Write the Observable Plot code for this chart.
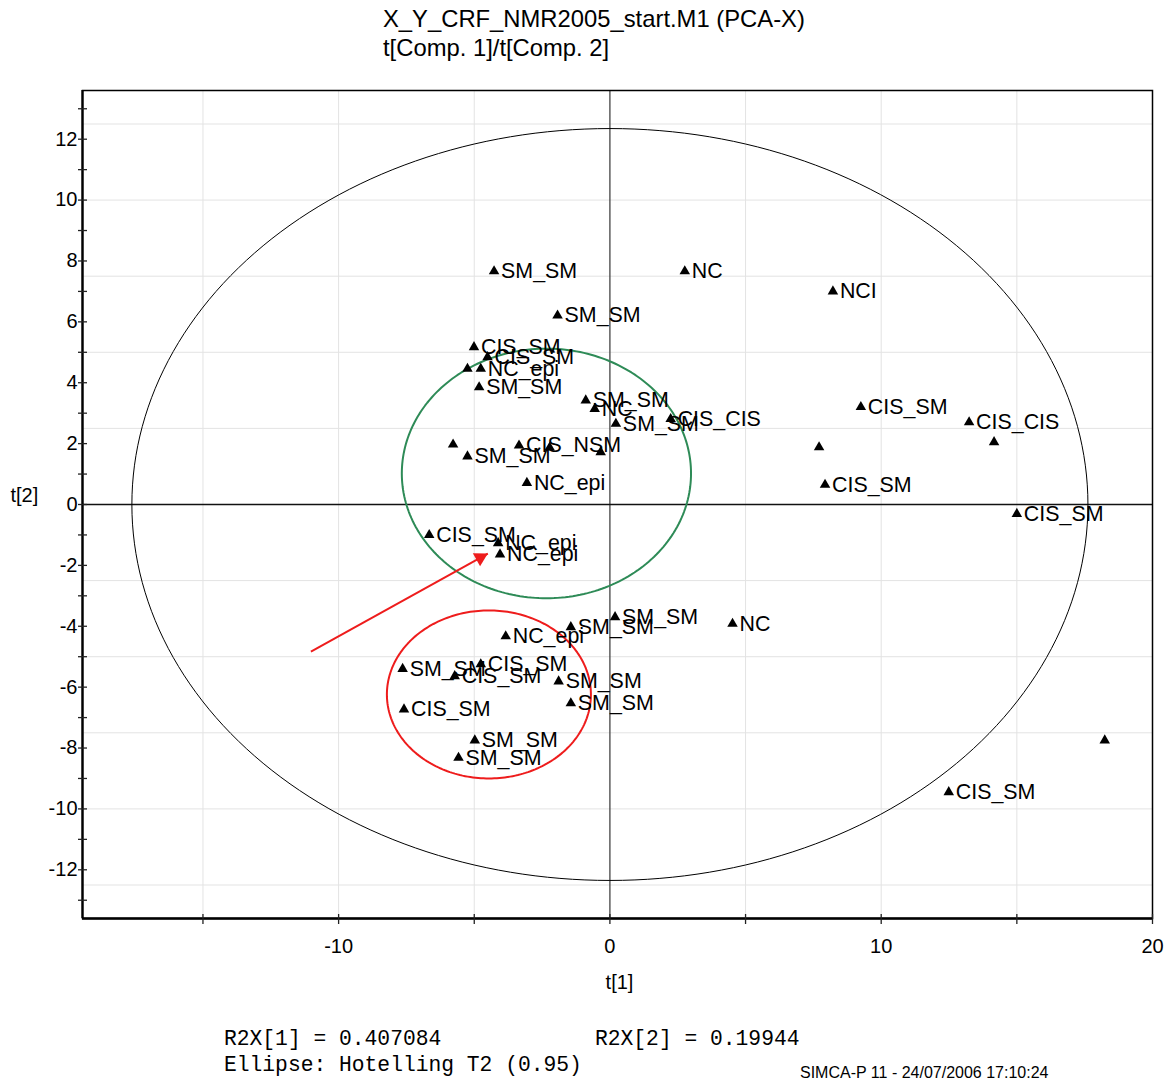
<!DOCTYPE html>
<html>
<head>
<meta charset="utf-8">
<script src="https://cdn.jsdelivr.net/npm/d3@7"></script>
<script src="https://cdn.jsdelivr.net/npm/@observablehq/plot@0.6"></script>
<style>
  html, body { margin: 0; padding: 0; background: #fff; }
  body { position: relative; width: 1172px; height: 1079px; overflow: hidden; }
  .sans { font-family: "Liberation Sans", Arial, sans-serif; color: #000; }
  .mono { font-family: "Liberation Mono", "Courier New", monospace; color: #000; }
  #title { position: absolute; left: 383px; top: 4px; font-size: 23.8px; line-height: 29px; white-space: nowrap; }
  #chart { position: absolute; left: 0; top: 80px; }
  .foot { position: absolute; white-space: nowrap; line-height: 26px; }
</style>
</head>
<body>
<div id="title" class="sans">X_Y_CRF_NMR2005_start.M1 (PCA-X)<br>t[Comp. 1]/t[Comp. 2]</div>
<div id="chart"></div>
<div class="foot mono" style="left:224px; top:1026px; font-size:21.3px;">R2X[1] = 0.407084</div>
<div class="foot mono" style="left:595px; top:1026px; font-size:21.3px;">R2X[2] = 0.19944</div>
<div class="foot mono" style="left:224px; top:1052px; font-size:21.3px;">Ellipse: Hotelling T2 (0.95)</div>
<div class="foot sans" style="left:800px; top:1060px; font-size:16px;">SIMCA-P 11 - 24/07/2006 17:10:24</div>
<script>
// Score plot t[1] vs t[2]: observation names and their scores
const obsLabel = ["SM_SM","NC","NCI","SM_SM","CIS_SM","CIS_SM","","NC_epi","SM_SM","SM_SM",
  "NC","SM_SM","CIS_CIS","","SM_SM","CIS_NSM","","","NC_epi","CIS_SM",
  "CIS_CIS","","","CIS_SM","CIS_SM","CIS_SM","NC_epi","NC_epi","NC_epi","SM_SM",
  "SM_SM","NC","SM_SM","CIS_SM","CIS_SM","SM_SM","CIS_SM","SM_SM","SM_SM","SM_SM",
  "","CIS_SM"];
const t1 = [-4.27, 2.76, 8.22, -1.93, -5.01, -4.51, -5.25, -4.76, -4.82, -0.89,
  -0.56, 0.22, 2.24, -5.78, -5.25, -3.35, -2.22, -0.34, -3.06, 9.25,
  13.24, 7.71, 14.16, 7.93, 15.00, -6.66, -4.12, -4.05, -3.84, -1.44,
  0.19, 4.52, -7.64, -4.76, -5.72, -1.89, -7.59, -1.44, -4.98, -5.58,
  18.24, 12.49];
const t2 = [7.66, 7.66, 7.00, 6.21, 5.17, 4.84, 4.46, 4.46, 3.85, 3.42,
  3.14, 2.65, 2.81, 1.97, 1.58, 1.94, 1.87, 1.72, 0.71, 3.20,
  2.70, 1.88, 2.05, 0.65, -0.31, -1.00, -1.27, -1.64, -4.33, -4.03,
  -3.70, -3.92, -5.40, -5.25, -5.64, -5.81, -6.73, -6.53, -7.75, -8.32,
  -7.75, -9.45];

// Ellipses: [centre t1, centre t2, radius t1, radius t2]
const hotelling = [0, 0, 17.62, 12.35];
const groupA = [-2.34, 1.02, 5.33, 4.10];   // green
const groupB = [-4.46, -6.24, 3.76, 2.76];  // red

// Red arrow pointing at the NC_epi pair
const arrowFrom = [-11.02, -4.83];
const arrowTo = [-4.50, -1.61];

// Axes
const xDomain = [-19.44, 20.0];
const yDomain = [-13.6, 13.6];
const xTickLabels = [-10, 0, 10, 20];
const xTicks = [-15, -10, -5, 0, 5, 10, 15, 20];
const yTickLabels = [-12, -10, -8, -6, -4, -2, 0, 2, 4, 6, 8, 10, 12];
const yTicks = d3.range(-13, 14, 1);
const xGrid = [-15, -10, -5, 5, 10, 15];
const yGrid = [-12.5, -10, -7.5, -5, -2.5, 2.5, 5, 7.5, 10, 12.5];

const points = obsLabel.map((name, i) => ({name, t1: t1[i], t2: t2[i]}));

function ellipse([cx, cy, rx, ry], n = 240) {
  return d3.range(n).map(k => {
    const a = (2 * Math.PI * k) / n;
    return {x: cx + rx * Math.cos(a), y: cy + ry * Math.sin(a)};
  });
}

const W = 1172, H = 920;
const M = {top: 10, right: 20, bottom: 82, left: 82};
const kx = (W - M.left - M.right) / (xDomain[1] - xDomain[0]);
const ky = (H - M.top - M.bottom) / (yDomain[1] - yDomain[0]);

// arrowhead orientation in screen space (degrees clockwise from up)
const pdx = (arrowTo[0] - arrowFrom[0]) * kx;
const pdy = -(arrowTo[1] - arrowFrom[1]) * ky;
const plen = Math.hypot(pdx, pdy);
const headAngle = Math.atan2(pdx, -pdy) * 180 / Math.PI;
const headSide = 15;
const headBack = headSide / Math.sqrt(3); // centroid-to-tip distance
const headPos = {
  x: arrowTo[0] - (pdx / plen) * headBack / kx,
  y: arrowTo[1] + (pdy / plen) * headBack / ky
};
const headR = Math.sqrt((Math.sqrt(3) / 4) * headSide * headSide / Math.PI);

const chart = Plot.plot({
  width: W,
  height: H,
  marginTop: M.top,
  marginRight: M.right,
  marginBottom: M.bottom,
  marginLeft: M.left,
  style: {fontFamily: "Liberation Sans, Arial, sans-serif", fontSize: "20px", background: "white", color: "black"},
  x: {domain: xDomain},
  y: {domain: yDomain},
  marks: [
    // light grid
    Plot.ruleX(xGrid, {stroke: "#e3e3e3", strokeWidth: 1}),
    Plot.ruleY(yGrid, {stroke: "#e3e3e3", strokeWidth: 1}),
    // zero lines
    Plot.ruleX([0], {stroke: "#444", strokeWidth: 1.3}),
    Plot.ruleY([0], {stroke: "#111", strokeWidth: 1.3}),
    // Hotelling T2 ellipse and group ellipses
    Plot.line(ellipse(hotelling), {x: "x", y: "y", curve: "linear-closed", stroke: "black", strokeWidth: 1}),
    Plot.line(ellipse(groupA), {x: "x", y: "y", curve: "linear-closed", stroke: "#2e8b57", strokeWidth: 2}),
    Plot.line(ellipse(groupB), {x: "x", y: "y", curve: "linear-closed", stroke: "#ee1c1c", strokeWidth: 2}),
    // arrow
    Plot.link([0], {x1: arrowFrom[0], y1: arrowFrom[1], x2: arrowTo[0], y2: arrowTo[1], stroke: "#ee1c1c", strokeWidth: 2}),
    Plot.dot([headPos], {x: "x", y: "y", symbol: "triangle", r: headR, fill: "#ee1c1c", stroke: "none", rotate: headAngle}),
    // frame and axis lines
    Plot.frame({stroke: "black", strokeWidth: 1.5}),
    Plot.ruleX([xDomain[0]], {stroke: "black", strokeWidth: 2.3}),
    Plot.ruleY([yDomain[0]], {stroke: "black", strokeWidth: 2.3}),
    // tick marks crossing the axes
    Plot.ruleY(yTicks, {x1: xDomain[0], x2: xDomain[0], insetLeft: -4, insetRight: -5, stroke: "#222", strokeWidth: 1.3}),
    Plot.ruleX(xTicks, {y1: yDomain[0], y2: yDomain[0], insetTop: -4, insetBottom: -6, stroke: "#222", strokeWidth: 1.3}),
    // tick labels
    Plot.axisX({ticks: xTickLabels, tickSize: 0, tickPadding: 20, tickFormat: d => String(d), label: null, fontSize: 20}),
    Plot.axisY({ticks: yTickLabels, tickSize: 0, tickPadding: 5, tickFormat: d => String(d), label: null, fontSize: 20}),
    // axis titles
    Plot.text(["t[1]"], {frameAnchor: "bottom", text: d => d, dx: 2, dy: 70, fontSize: 20}),
    Plot.text(["t[2]"], {frameAnchor: "left", text: d => d, dx: -72, dy: -9, fontSize: 20}),
    // observations
    Plot.dot(points, {x: "t1", y: "t2", symbol: "triangle", r: 3.9, fill: "black", stroke: "none"}),
    Plot.text(points.filter(d => d.name), {x: "t1", y: "t2", text: "name", dx: 7, textAnchor: "start", fontSize: 21.4, fill: "black"})
  ]
});

document.getElementById("chart").appendChild(chart);
</script>
</body>
</html>
